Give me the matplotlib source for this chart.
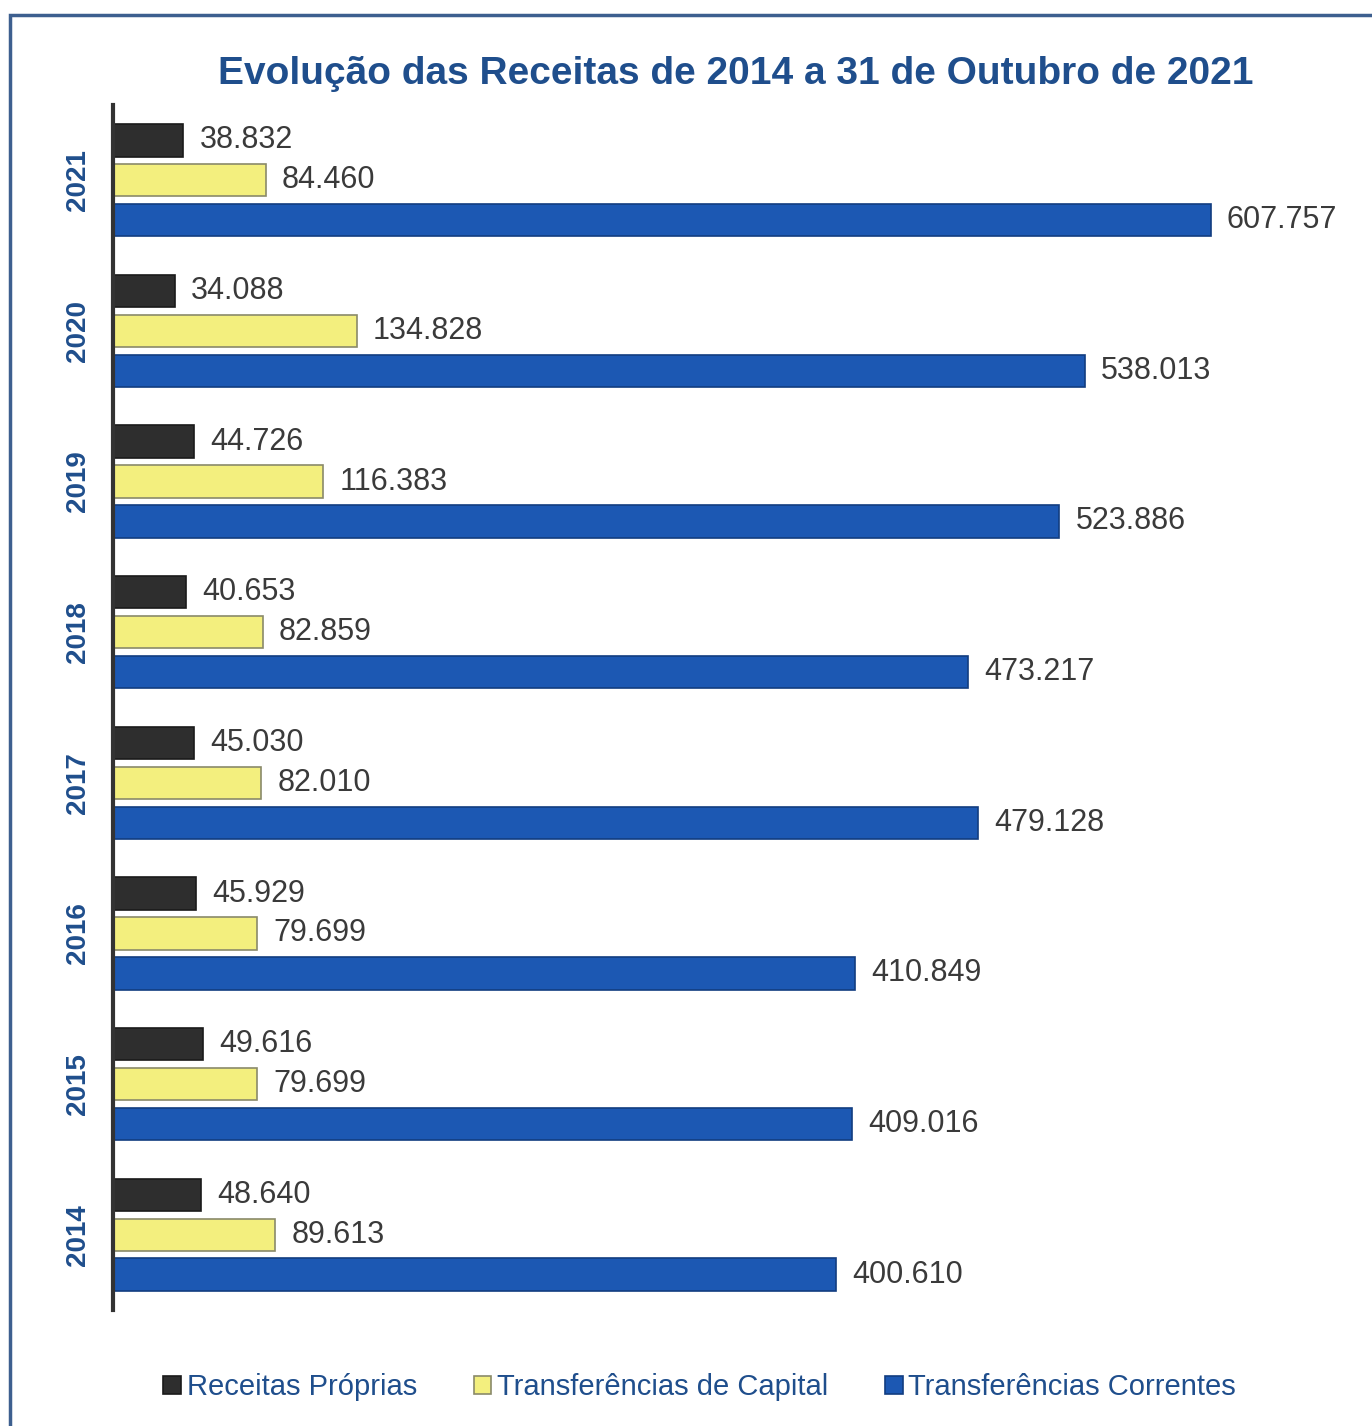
import numpy as np
import matplotlib.pyplot as plt
from matplotlib.patches import Rectangle

# anos e valores (mil)
anos = ['2014', '2015', '2016', '2017', '2018', '2019', '2020', '2021']
receitas_proprias = [48.640, 49.616, 45.929, 45.030, 40.653, 44.726, 34.088, 38.832]
transf_capital = [89.613, 79.699, 79.699, 82.010, 82.859, 116.383, 134.828, 84.460]
transf_correntes = [400.610, 409.016, 410.849, 479.128, 473.217, 523.886, 538.013, 607.757]

azul_txt = '#1f4e8c'
plt.rcParams['font.family'] = ['Liberation Sans', 'DejaVu Sans']

fig = plt.figure(figsize=(13.72, 14.26), dpi=100)
ax = fig.add_axes([0.0824, 0.0813, 0.9016, 0.8451])

y = np.arange(len(anos))
off = 0.265
h = 0.215

series = [
    (receitas_proprias, off, '#2e2e2e', '#1a1a1a', 'Receitas Próprias'),
    (transf_capital, 0, '#f3ef7e', '#8a8a6a', 'Transferências de Capital'),
    (transf_correntes, -off, '#1c58b3', '#123d80', 'Transferências Correntes'),
]

for vals, dy, cor, borda, nome in series:
    ax.barh(y + dy, vals, height=h, color=cor, edgecolor=borda,
            linewidth=1.2, label=nome)
    for v, yy in zip(vals, y + dy):
        ax.text(v + 9, yy, f'{v:.3f}', va='center', ha='left',
                fontsize=22, color='#3a3a3a')

ax.set_xlim(0, 685)
ax.set_ylim(-0.5, 7.5)
ax.set_yticks(y)
ax.set_yticklabels(anos, rotation=90, va='center', fontsize=20,
                   fontweight='bold', color=azul_txt)
ax.tick_params(axis='y', length=0, pad=16)
ax.set_xticks([])
for s in ['top', 'right', 'bottom']:
    ax.spines[s].set_visible(False)
ax.spines['left'].set_linewidth(3)
ax.spines['left'].set_color('#333333')

fig.text(0.536, 0.948, 'Evolução das Receitas de 2014 a 31 de Outubro de 2021',
         ha='center', va='center', fontsize=28, fontweight='bold', color=azul_txt)

leg = fig.legend(loc='center', bbox_to_anchor=(0.51, 0.027), ncol=3, frameon=False,
                 fontsize=21, handlelength=0.6, handleheight=0.6,
                 handletextpad=0.2, columnspacing=1.95)
for t in leg.get_texts():
    t.set_color(azul_txt)

fig.patches.append(Rectangle((0.007, -0.01), 1.1, 0.9995, transform=fig.transFigure,
                             fill=False, edgecolor='#3d5f8f', linewidth=2.5))

fig.savefig('out.png', dpi=100)
